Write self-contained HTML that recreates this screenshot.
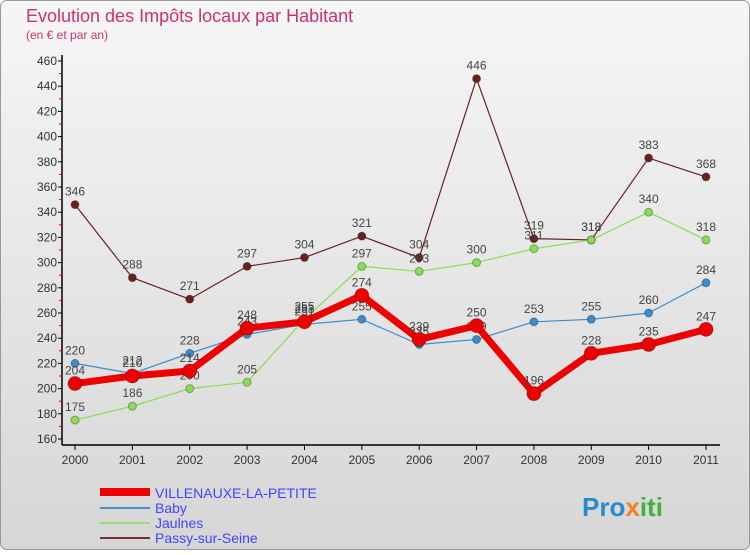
<!DOCTYPE html>
<html><head><meta charset="utf-8"><style>
body{margin:0;}
#c{width:750px;height:550px;position:relative;font-family:"Liberation Sans",sans-serif;}
svg text{font-family:"Liberation Sans",sans-serif;}
</style></head><body>
<div id="c">
<svg id="s" width="750" height="550" xmlns="http://www.w3.org/2000/svg">
<defs><linearGradient id="bg" x1="0" y1="0" x2="0" y2="1"><stop offset="0" stop-color="#f6f6f6"/><stop offset="1" stop-color="#d6d6d6"/></linearGradient></defs>
<rect x="0.5" y="0.5" width="749" height="549" rx="6" fill="url(#bg)" stroke="#999"/>
<text x="26" y="22" font-size="18" fill="#d03070">Evolution des Impôts locaux par Habitant</text>
<text x="26" y="39" font-size="12" fill="#d03070">(en € et par an)</text>
<g id="axes"></g><g id="series"></g>
<g>
<rect x="100" y="488" width="50" height="8" fill="#ee0000"/>
<text x="155" y="498" font-size="14" fill="#4444ff">VILLENAUXE-LA-PETITE</text>
<line x1="100" y1="508" x2="150" y2="508" stroke="#4a90c8" stroke-width="2"/>
<text x="155" y="513" font-size="14" fill="#4444ff">Baby</text>
<line x1="100" y1="523" x2="150" y2="523" stroke="#99dd77" stroke-width="2"/>
<text x="155" y="528" font-size="14" fill="#4444ff">Jaulnes</text>
<line x1="100" y1="538" x2="150" y2="538" stroke="#703030" stroke-width="2"/>
<text x="155" y="543" font-size="14" fill="#4444ff">Passy-sur-Seine</text>
</g>
<text x="582" y="516" font-size="26" font-weight="bold" fill="#2a8ad0">Pro<tspan fill="#f08020">x</tspan><tspan fill="#40b040">iti</tspan></text>
</svg>
</div>
<script>
const years=[2000,2001,2002,2003,2004,2005,2006,2007,2008,2009,2010,2011];
const yTicks=[160,180,200,220,240,260,280,300,320,340,360,380,400,420,440,460];
const villenauxe=[204,210,214,248,253,274,239,250,196,228,235,247];
const baby=[220,212,228,243,251,255,235,239,253,255,260,284];
const jaulnes=[175,186,200,205,255,297,293,300,311,318,340,318];
const passy=[346,288,271,297,304,321,304,446,319,318,383,368];
const NS="http://www.w3.org/2000/svg";
const X=i=>75+i*(706-75)/(years.length-1);
const Y=v=>439-(v-160)*(378/300);
function mk(t,a,p){const e=document.createElementNS(NS,t);for(const k in a)e.setAttribute(k,a[k]);p.appendChild(e);return e;}
const ax=document.getElementById('axes');
const yl=mk('line',{x1:62,y1:55,x2:62,y2:445,stroke:'#000','stroke-width':1.5},ax);


const xl=mk('line',{x1:62,y1:445,x2:720,y2:445,stroke:'#000','stroke-width':1.5},ax);


yTicks.forEach(v=>{
  const t=mk('text',{x:57,y:Y(v)+4,'font-size':12,fill:'#333','text-anchor':'end'},ax);t.textContent=v;
  
  
  mk('line',{x1:58,y1:Y(v),x2:62,y2:Y(v),stroke:'#000'},ax);
  if(v<460)mk('line',{x1:59,y1:Y(v+10),x2:62,y2:Y(v+10),stroke:'#e00'},ax);
});
years.forEach((yr,i)=>{
  const t=mk('text',{x:X(i),y:464,'font-size':12,fill:'#333','text-anchor':'middle'},ax);t.textContent=yr;
  
  
  mk('line',{x1:X(i),y1:445,x2:X(i),y2:450,stroke:'#000'},ax);
});
const sg=document.getElementById('series');
function draw(name,data,color,w,r){
  const g=mk('g',{},sg);
  
  
  const pl=mk('polyline',{points:data.map((v,i)=>X(i)+','+Y(v)).join(' '),fill:'none',stroke:color,'stroke-width':w,'stroke-linejoin':'round'},g);
  
  
  data.forEach((v,i)=>{
    const c=mk('circle',{cx:X(i),cy:Y(v),r:r,fill:color,stroke:'rgba(0,0,0,0.3)','stroke-width':1},g);
    
    
    const t=mk('text',{x:X(i),y:Y(v)-9,'font-size':12,fill:'#444','text-anchor':'middle'},g);t.textContent=v;
    
    
  });
}
draw('passy',passy,'#6b2020',1.2,4);
draw('jaulnes',jaulnes,'#88dd55',1.2,4);
draw('baby',baby,'#3a8ccc',1.2,4);
draw('villenauxe',villenauxe,'#ee0000',7,7);
</script>
</body></html>
